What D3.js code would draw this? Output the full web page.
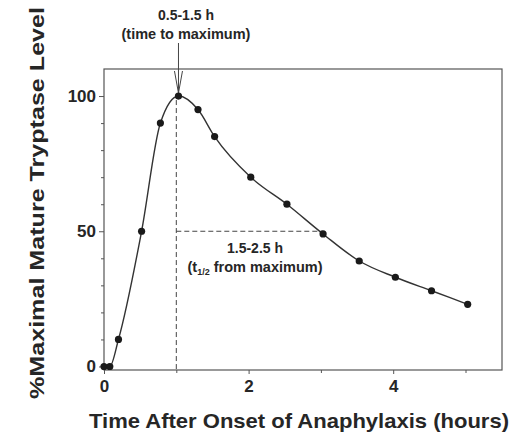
<!DOCTYPE html>
<html>
<head>
<meta charset="utf-8">
<script src="https://cdn.jsdelivr.net/npm/d3@7"></script>
<style>
  body { margin: 0; background: #fff; }
  svg text { font-family: "Liberation Sans", Arial, sans-serif; fill: #262626; }
</style>
</head>
<body>
<div id="chart"></div>
<script>
// data
const hours = [0, 0.08, 0.2, 0.52, 0.78, 1.03, 1.3, 1.53, 2.03, 2.53, 3.03, 3.53, 4.03, 4.53, 5.03];
const tryptase = [0, 0, 10, 50, 90, 100, 95, 85, 70, 60, 49, 39, 33, 28, 23];
const xMajorTicks = [0, 2, 4];
const xMinorTicks = [1, 3, 5];
const yMajorTicks = [0, 50, 100];
const yMinorTicks = [10, 20, 30, 40, 60, 70, 80, 90];

const width = 512, height = 442;
const plotL = 104, plotR = 502, plotT = 69, plotB = 370;

const svg = d3.select("#chart").append("svg")
    .attr("width", width)
    .attr("height", height);

const x = d3.scaleLinear().domain([0, 5.5]).range([plotL, plotL + 5.5 * 72.3]);
const y = d3.scaleLinear().domain([-1.3, 110]).range([plotB, plotT]);

// frame
svg.append("rect")
    .attr("x", plotL).attr("y", plotT)
    .attr("width", plotR - plotL).attr("height", plotB - plotT)
    .attr("fill", "none").attr("stroke", "#555").attr("stroke-width", 1.2);

// axes
svg.append("g")
    .attr("transform", `translate(${plotL},0)`)
    .call(d3.axisLeft(y).tickValues(yMajorTicks).tickSize(5).tickPadding(3));
svg.append("g")
    .attr("transform", `translate(${plotL},0)`)
    .call(d3.axisLeft(y).tickValues(yMinorTicks).tickSize(3).tickFormat(""));

svg.append("g")
    .attr("transform", `translate(0,${plotB})`)
    .call(d3.axisBottom(x).tickValues(xMajorTicks).tickSize(4).tickPadding(6).tickFormat(d3.format("d")));
svg.append("g")
    .attr("transform", `translate(0,${plotB})`)
    .call(d3.axisBottom(x).tickValues(xMinorTicks).tickSize(3).tickFormat(""));

svg.selectAll(".domain").remove();
svg.selectAll(".tick line").attr("stroke", "#555");
svg.selectAll(".tick text")
    .style("font-size", "17px").style("font-weight", "bold")
    .attr("fill", "#262626");

// dashed guide lines
svg.append("line")
    .attr("x1", x(1)).attr("x2", x(1))
    .attr("y1", y(100) + 4).attr("y2", plotB)
    .attr("stroke", "#444").attr("stroke-width", 1)
    .attr("stroke-dasharray", "5,3");
svg.append("line")
    .attr("x1", x(1)).attr("x2", x(3.03))
    .attr("y1", y(50)).attr("y2", y(50))
    .attr("stroke", "#444").attr("stroke-width", 1)
    .attr("stroke-dasharray", "5,3");

// arrow to the maximum
const peakX = x(1.03);
svg.append("line")
    .attr("x1", peakX).attr("x2", peakX)
    .attr("y1", 43).attr("y2", y(100) - 3)
    .attr("stroke", "#444").attr("stroke-width", 1);
svg.append("path")
    .attr("d", `M${peakX - 4},${plotT + 2} L${peakX},${y(100) - 3} L${peakX + 4},${plotT + 2}`)
    .attr("fill", "none").attr("stroke", "#444").attr("stroke-width", 1);

// curve
const pts = hours.map((h, i) => [h, tryptase[i]]);
const line = d3.line()
    .x(d => x(d[0]))
    .y(d => y(d[1]))
    .curve(d3.curveMonotoneX);
svg.append("path")
    .datum(pts)
    .attr("d", line)
    .attr("fill", "none")
    .attr("stroke", "#333")
    .attr("stroke-width", 1.4);

svg.selectAll("circle.pt")
    .data(pts).enter()
    .append("circle")
    .attr("class", "pt")
    .attr("cx", d => x(d[0]))
    .attr("cy", d => y(d[1]))
    .attr("r", 3.6)
    .attr("fill", "#1a1a1a");

// annotations
const note = (txt, cx, by, size) => svg.append("text")
    .attr("x", cx).attr("y", by)
    .attr("text-anchor", "middle")
    .style("font-size", size + "px").style("font-weight", "bold")
    .text(txt);

note("0.5-1.5 h", 186, 20, 14);
note("(time to maximum)", 186, 39, 14.5);
note("1.5-2.5 h", 255, 253, 14);

const half = svg.append("text")
    .attr("x", 255).attr("y", 272)
    .attr("text-anchor", "middle")
    .style("font-size", "14.5px").style("font-weight", "bold");
half.append("tspan").text("(t");
half.append("tspan").attr("dy", 3).style("font-size", "9px").text("1/2");
half.append("tspan").attr("dy", -3).text(" from maximum)");

// axis titles
svg.append("text")
    .attr("x", 299).attr("y", 428)
    .attr("text-anchor", "middle")
    .attr("textLength", 420).attr("lengthAdjust", "spacingAndGlyphs")
    .style("font-size", "21px").style("font-weight", "bold")
    .text("Time After Onset of Anaphylaxis (hours)");

svg.append("text")
    .attr("transform", "translate(44,203) rotate(-90)")
    .attr("text-anchor", "middle")
    .attr("textLength", 392).attr("lengthAdjust", "spacingAndGlyphs")
    .style("font-size", "21px").style("font-weight", "bold")
    .text("%Maximal Mature Tryptase Level");
</script>
</body>
</html>
